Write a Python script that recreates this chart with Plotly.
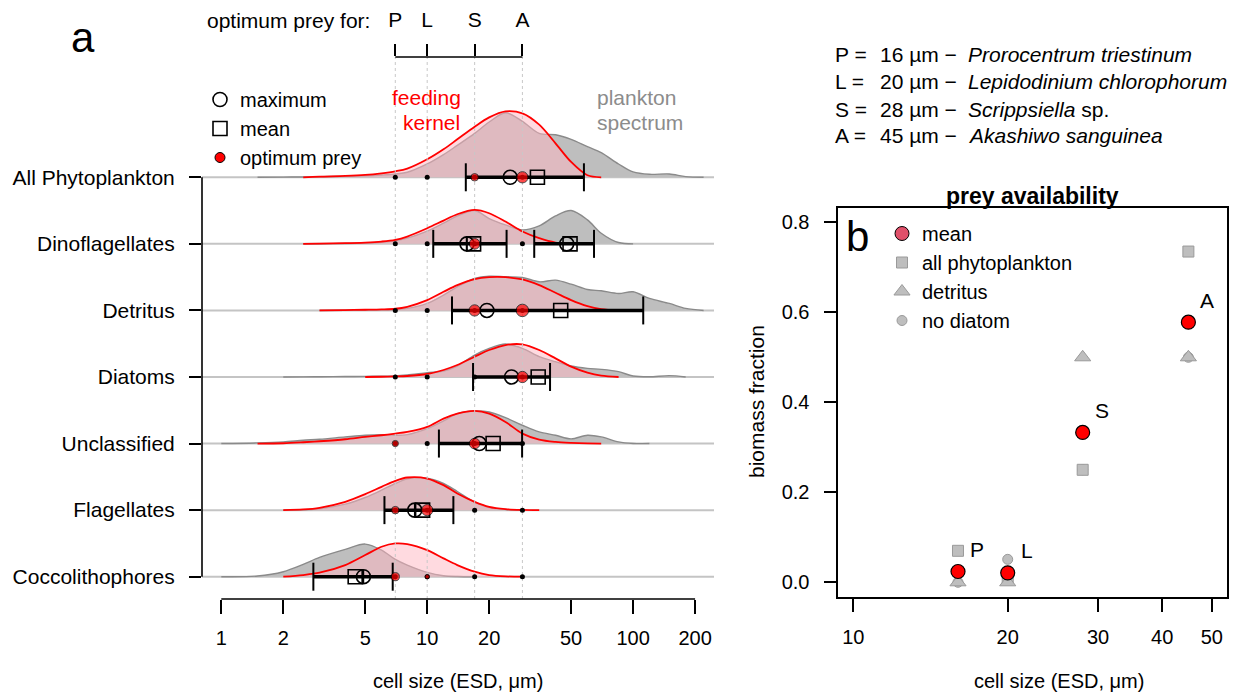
import math
import plotly.graph_objects as go

W, H = 1235, 695
FONT = "Liberation Sans, Arial, Helvetica, sans-serif"

# ---------------------------------------------------------------- data
GROUPS = ["All Phytoplankton", "Dinoflagellates", "Detritus", "Diatoms",
          "Unclassified", "Flagellates", "Coccolithophores"]

# cell-size sample points (ESD, um) at which the curves were read
SIZE_GRID = [1, 1.5, 2, 2.5, 3, 4, 5, 6, 7, 8, 10, 12, 14, 17, 20, 24, 29,
             35, 42, 50, 60, 70, 85, 100, 120, 150, 180, 220]

# plankton size spectra (relative density, in row heights)
SPEC_ALL = [0, 0, 0.003, 0.005, 0.008, 0.014, 0.022, 0.035, 0.05, 0.075, 0.20, 0.34, 0.48, 0.66,
            0.83, 0.97, 0.84, 0.66, 0.64, 0.57, 0.46, 0.37, 0.20, 0.08, 0.045, 0.05, 0.01, 0]
SPEC_DINO = [0, 0, 0, 0, 0.002, 0.005, 0.012, 0.025, 0.045, 0.085, 0.19, 0.31, 0.42, 0.50,
             0.38, 0.285, 0.21, 0.27, 0.42, 0.50, 0.36, 0.16, 0.02, 0, 0, 0, 0, 0]
SPEC_DETR = [0, 0, 0, 0, 0, 0.002, 0.004, 0.008, 0.015, 0.03, 0.105, 0.23, 0.355, 0.48,
             0.515, 0.505, 0.495, 0.43, 0.455, 0.395, 0.315, 0.295, 0.255, 0.28, 0.18, 0.105, 0.03, 0]
SPEC_DIAT = [0, 0, 0, 0.002, 0.004, 0.007, 0.01, 0.013, 0.016, 0.03, 0.065, 0.09, 0.165, 0.33,
             0.43, 0.495, 0.43, 0.305, 0.23, 0.165, 0.13, 0.115, 0.08, 0.015, 0.003, 0.02, 0, 0]
SPEC_UNCL = [0, 0.01, 0.025, 0.05, 0.065, 0.10, 0.125, 0.135, 0.125, 0.135, 0.225, 0.34, 0.45, 0.49,
             0.475, 0.39, 0.275, 0.175, 0.125, 0.07, 0.125, 0.10, 0.025, 0.002, 0, 0, 0, 0]
SPEC_FLAG = [0, 0, 0, 0.005, 0.02, 0.09, 0.19, 0.30, 0.40, 0.47, 0.48, 0.40, 0.28, 0.12,
             0.04, 0.01, 0, 0, 0, 0, 0, 0, 0, 0, 0, 0, 0, 0]
SPEC_COCC = [0, 0.01, 0.075, 0.185, 0.29, 0.41, 0.49, 0.40, 0.26, 0.175, 0.065, 0.015, 0.003, 0,
             0, 0, 0, 0, 0, 0, 0, 0, 0, 0, 0, 0, 0, 0]

# feeding kernels (relative, in row heights)
KERN_ALL = [0, 0, 0, 0, 0.01, 0.02, 0.035, 0.06, 0.09, 0.13, 0.27, 0.42, 0.57, 0.76,
            0.90, 0.99, 0.96, 0.79, 0.51, 0.23, 0.03, 0, 0, 0, 0, 0, 0, 0]
KERN_DINO = [0, 0, 0, 0, 0.004, 0.01, 0.02, 0.035, 0.06, 0.11, 0.235, 0.35, 0.445, 0.51,
             0.46, 0.335, 0.185, 0.085, 0.02, 0, 0, 0, 0, 0, 0, 0, 0, 0]
KERN_DETR = [0, 0, 0, 0, 0, 0.005, 0.01, 0.015, 0.025, 0.055, 0.155, 0.28, 0.38, 0.47,
             0.50, 0.50, 0.465, 0.38, 0.265, 0.155, 0.065, 0.02, 0, 0, 0, 0, 0, 0]
KERN_DIAT = [0, 0, 0, 0, 0, 0, 0, 0.004, 0.008, 0.015, 0.045, 0.105, 0.18, 0.305,
             0.405, 0.48, 0.49, 0.405, 0.28, 0.155, 0.065, 0.02, 0, 0, 0, 0, 0, 0]
KERN_UNCL = [0, 0, 0.005, 0.02, 0.035, 0.065, 0.10, 0.125, 0.15, 0.175, 0.25, 0.375, 0.45, 0.49,
             0.45, 0.325, 0.15, 0.06, 0.025, 0.01, 0.002, 0, 0, 0, 0, 0, 0, 0]
KERN_FLAG = [0, 0, 0, 0.01, 0.035, 0.125, 0.24, 0.35, 0.44, 0.49, 0.475, 0.375, 0.25, 0.125,
             0.05, 0.015, 0.003, 0, 0, 0, 0, 0, 0, 0, 0, 0, 0, 0]
KERN_COCC = [0, 0, 0, 0.025, 0.06, 0.175, 0.325, 0.45, 0.50, 0.49, 0.40, 0.275, 0.175, 0.075,
             0.025, 0.005, 0, 0, 0, 0, 0, 0, 0, 0, 0, 0, 0, 0]

# per-group size statistics (um)
RANGE_LO = [15.4, 10.7, 13.2, 16.7, 11.4, 6.2, 2.8]
RANGE_HI = [57.7, 24.3, 112, 39.5, 28.9, 13.4, 6.8]
SIZE_MAX = [25.3, 15.6, 19.5, 25.7, 17.9, 8.7, 4.9]
SIZE_MEAN = [34.3, 16.8, 44.5, 34.6, 20.9, 9.5, 4.47]
# second (large-cell) mode of the dinoflagellates
DINO2_LO, DINO2_HI, DINO2_MAX, DINO2_MEAN = 33.1, 64.6, 47.6, 49.4

# predators
PREDATORS = ["P", "L", "S", "A"]
PRED_SIZE = [16, 20, 28, 45]
OPT_PREY = [7, 10, 17, 29]
SPECIES = ["Prorocentrum triestinum", "Lepidodinium chlorophorum", "Scrippsiella", "Akashiwo sanguinea"]
SPECIES_SUFFIX = ["", "", " sp.", ""]

# relative prey availability at each optimum prey size, per group (P, L, S, A)
OPT_WEIGHT_ALL = [0, 0, 0.6, 0.9]
OPT_WEIGHT_DINO = [0, 0, 0.85, 0]
OPT_WEIGHT_DETR = [0, 0, 0.9, 1.0]
OPT_WEIGHT_DIAT = [0, 0, 0, 0.9]
OPT_WEIGHT_UNCL = [0.5, 0, 0.85, 0]
OPT_WEIGHT_FLAG = [0.6, 0.9, 0, 0]
OPT_WEIGHT_COCC = [0.65, 0.35, 0, 0]

# panel b: biomass fraction available to each predator
AVAIL_MEAN = [0.024, 0.021, 0.333, 0.578]
AVAIL_ALLPHYTO = [0.07, 0.01, 0.25, 0.735]
AVAIL_DETRITUS = [0.0, 0.0, 0.5, 0.5]
AVAIL_NODIATOM = [0.0, 0.051, 0.25, 0.5]

X_TICKS_A = [1, 2, 5, 10, 20, 50, 100, 200]
X_TICKS_B = [10, 20, 30, 40, 50]
Y_TICKS_B = [0.0, 0.2, 0.4, 0.6, 0.8]

SPECTRA = [SPEC_ALL, SPEC_DINO, SPEC_DETR, SPEC_DIAT, SPEC_UNCL, SPEC_FLAG, SPEC_COCC]
KERNELS = [KERN_ALL, KERN_DINO, KERN_DETR, KERN_DIAT, KERN_UNCL, KERN_FLAG, KERN_COCC]
OPT_WEIGHTS = [OPT_WEIGHT_ALL, OPT_WEIGHT_DINO, OPT_WEIGHT_DETR, OPT_WEIGHT_DIAT,
               OPT_WEIGHT_UNCL, OPT_WEIGHT_FLAG, OPT_WEIGHT_COCC]

# ---------------------------------------------------------------- layout geometry (pixels)
A_LEFT, A_RIGHT, A_TOP, A_BOTTOM = 202, 714, 57, 599
A_XRANGE = [-0.0937, 2.3929]
A_YRANGE = [-0.335, 7.807]
B_LEFT, B_RIGHT, B_TOP, B_BOTTOM = 838.3, 1226.7, 208.3, 596.7
B_XRANGE = [0.9708, 1.7279]
B_YRANGE = [-0.032, 0.8311]

CROSSED_MAX = {"Dinoflagellates", "Flagellates", "Coccolithophores"}

GRAY_FILL = "#BEBEBE"
GRAY_LINE = "#8A8A8A"
PINK_FILL = "rgba(255,182,193,0.5)"
RED = "#FF0000"


def px(x):
    return x / W


def py(y):
    return 1 - y / H


def trim(xs, hs):
    """drop the flat zero tails, keeping one zero at each end"""
    nz = [k for k, h in enumerate(hs) if h > 0]
    a = max(nz[0] - 1, 0)
    b = min(nz[-1] + 1, len(hs) - 1)
    return xs[a:b + 1], hs[a:b + 1]


fig = go.Figure()
nrow = len(GROUPS)
rows = [nrow - 1 - i for i in range(nrow)]

# ---------------------------------------------------------------- densities
for i, g in enumerate(GROUPS):
    r = rows[i]
    for hs, fillc, linec, lw in ((SPECTRA[i], GRAY_FILL, GRAY_LINE, 1.4),
                                 (KERNELS[i], PINK_FILL, RED, 1.8)):
        xs, hh = trim(SIZE_GRID, hs)
        fig.add_trace(go.Scatter(x=xs, y=[r] * len(xs), mode="lines",
                                 line=dict(width=0, color="rgba(0,0,0,0)"),
                                 showlegend=False, hoverinfo="skip"))
        fig.add_trace(go.Scatter(x=xs, y=[r + h for h in hh], mode="lines",
                                 line=dict(width=lw, color=linec, shape="spline", smoothing=0.9),
                                 fill="tonexty", fillcolor=fillc,
                                 showlegend=False, hoverinfo="skip"))

# dotted optimum-prey reference lines
for v in OPT_PREY:
    fig.add_trace(go.Scatter(x=[v, v], y=A_YRANGE, mode="lines",
                             line=dict(color="#C8C8C8", width=1, dash="dot"),
                             showlegend=False, hoverinfo="skip"))

# size ranges
bx, by, cx, cy = [], [], [], []
for i in range(nrow):
    bx += [RANGE_LO[i], RANGE_HI[i], None]
    by += [rows[i], rows[i], None]
    cx += [RANGE_LO[i], RANGE_HI[i]]
    cy += [rows[i], rows[i]]
dino_row = rows[GROUPS.index("Dinoflagellates")]
bx += [DINO2_LO, DINO2_HI]
by += [dino_row, dino_row]
cx += [DINO2_LO, DINO2_HI]
cy += [dino_row, dino_row]
fig.add_trace(go.Scatter(x=bx, y=by, mode="lines", line=dict(color="black", width=3.5),
                         showlegend=False, hoverinfo="skip"))
fig.add_trace(go.Scatter(x=cx, y=cy, mode="markers",
                         marker=dict(symbol="line-ns-open", size=20, color="black",
                                     line=dict(color="black", width=2)),
                         showlegend=False, hoverinfo="skip"))

# maximum (circles) and mean (squares)
max_sym = ["circle-cross-open" if g in CROSSED_MAX else "circle-open" for g in GROUPS]
fig.add_trace(go.Scatter(x=SIZE_MAX + [DINO2_MAX], y=rows + [dino_row], mode="markers",
                         marker=dict(symbol=max_sym + ["circle-open"], size=14, color="black",
                                     line=dict(color="black", width=1.6)),
                         showlegend=False, hoverinfo="skip"))
fig.add_trace(go.Scatter(x=SIZE_MEAN + [DINO2_MEAN], y=rows + [dino_row], mode="markers",
                         marker=dict(symbol="square-open", size=14, color="black",
                                     line=dict(color="black", width=1.6)),
                         showlegend=False, hoverinfo="skip"))

# optimum prey positions: small black dots, red dots sized by availability
dx, dy, rx, ry, rs = [], [], [], [], []
for i in range(nrow):
    for k, v in enumerate(OPT_PREY):
        dx.append(v)
        dy.append(rows[i])
        w = OPT_WEIGHTS[i][k]
        if w > 0:
            rx.append(v)
            ry.append(rows[i])
            rs.append(12.5 * w)
fig.add_trace(go.Scatter(x=dx, y=dy, mode="markers", marker=dict(color="black", size=5),
                         showlegend=False, hoverinfo="skip"))
fig.add_trace(go.Scatter(x=rx, y=ry, mode="markers",
                         marker=dict(color=RED, size=rs, line=dict(color="black", width=1)),
                         showlegend=False, hoverinfo="skip"))

# top axis carrier for the predator letters
fig.add_trace(go.Scatter(x=OPT_PREY, y=[None] * len(OPT_PREY), xaxis="x3", yaxis="y",
                         mode="markers", showlegend=False, hoverinfo="skip"))

# legend a
fig.add_trace(go.Scatter(x=[None], y=[None], mode="markers", name="maximum", legend="legend",
                         marker=dict(symbol="circle-open", size=14, color="black",
                                     line=dict(color="black", width=1.6))))
fig.add_trace(go.Scatter(x=[None], y=[None], mode="markers", name="mean", legend="legend",
                         marker=dict(symbol="square-open", size=14, color="black",
                                     line=dict(color="black", width=1.6))))
fig.add_trace(go.Scatter(x=[None], y=[None], mode="markers", name="optimum prey", legend="legend",
                         marker=dict(symbol="circle", size=10, color=RED,
                                     line=dict(color="black", width=1))))

# ---------------------------------------------------------------- panel b
gray_m = dict(color=GRAY_FILL, line=dict(color="#9A9A9A", width=1))
fig.add_trace(go.Scatter(x=PRED_SIZE, y=AVAIL_NODIATOM, xaxis="x2", yaxis="y2", mode="markers",
                         marker=dict(symbol="circle", size=10, **gray_m),
                         showlegend=False, hoverinfo="skip"))
fig.add_trace(go.Scatter(x=PRED_SIZE, y=AVAIL_ALLPHYTO, xaxis="x2", yaxis="y2", mode="markers",
                         marker=dict(symbol="square", size=11, **gray_m),
                         showlegend=False, hoverinfo="skip"))
fig.add_trace(go.Scatter(x=PRED_SIZE, y=AVAIL_DETRITUS, xaxis="x2", yaxis="y2", mode="markers",
                         marker=dict(symbol="triangle-up", size=14, **gray_m),
                         showlegend=False, hoverinfo="skip"))
fig.add_trace(go.Scatter(x=PRED_SIZE, y=AVAIL_MEAN, xaxis="x2", yaxis="y2", mode="markers",
                         marker=dict(symbol="circle", size=14, color=RED,
                                     line=dict(color="black", width=1.2)),
                         showlegend=False, hoverinfo="skip"))

for name, sym, sz, col in (("mean", "circle", 14, "#E0506A"),
                           ("all phytoplankton", "square", 11, GRAY_FILL),
                           ("detritus", "triangle-up", 14, GRAY_FILL),
                           ("no diatom", "circle", 10, GRAY_FILL)):
    lc = "black" if name == "mean" else "#9A9A9A"
    fig.add_trace(go.Scatter(x=[None], y=[None], xaxis="x2", yaxis="y2", mode="markers",
                             name=name, legend="legend2",
                             marker=dict(symbol=sym, size=sz, color=col, line=dict(color=lc, width=1))))

# ---------------------------------------------------------------- shapes (axis lines, baselines)
shapes = []
for r in rows:
    shapes.append(dict(type="line", xref="x domain", yref="y", x0=0, x1=1, y0=r, y1=r,
                       line=dict(color="#C4C4C4", width=2), layer="below"))
shapes.append(dict(type="line", xref="x domain", yref="y", x0=0, x1=0, y0=min(rows), y1=max(rows),
                   line=dict(color="black", width=1.6)))
shapes.append(dict(type="line", xref="x", yref="y domain", x0=X_TICKS_A[0], x1=X_TICKS_A[-1],
                   y0=0, y1=0, line=dict(color="black", width=1.6)))
shapes.append(dict(type="line", xref="x", yref="y domain", x0=OPT_PREY[0], x1=OPT_PREY[-1],
                   y0=1, y1=1, line=dict(color="black", width=1.6)))

# ---------------------------------------------------------------- annotations
ann = []


def text(x, y, s, size=21, color="black", xanchor="center", **kw):
    ann.append(dict(x=px(x), y=py(y), xref="paper", yref="paper", text=s, showarrow=False,
                    xanchor=xanchor, yanchor="middle", font=dict(family=FONT, size=size, color=color),
                    **kw))


text(82.7, 37, "a", size=42)
text(857.5, 237, "b", size=42)
text(372, 21, "optimum prey for:", xanchor="right")
text(463, 98, "feeding", color=RED, xanchor="right")
text(462, 123, "kernel", color=RED, xanchor="right")
text(595, 98, "plankton", color="#8C8C8C", xanchor="left")
text(595, 123, "spectrum", color="#8C8C8C", xanchor="left")
text(458, 681, "cell size (ESD, μm)", size=20)
text(1059, 681, "cell size (ESD, μm)", size=20)
text(756, 402, "biomass fraction", textangle=-90)
text(1032, 196, "<b>prey availability</b>", size=23)

line_y = [55, 82, 109, 135]
for k in range(len(PREDATORS)):
    text(832.7, line_y[k], f"{PREDATORS[k]} =", xanchor="left")
    text(878.3, line_y[k], f"{PRED_SIZE[k]} µm −", xanchor="left")
    text(966, line_y[k], f"<i>{SPECIES[k]}</i>{SPECIES_SUFFIX[k]}", xanchor="left")

for k in range(len(PREDATORS)):
    ann.append(dict(x=math.log10(PRED_SIZE[k]), y=AVAIL_MEAN[k], xref="x2", yref="y2",
                    text=PREDATORS[k], showarrow=False, xshift=19, yshift=22,
                    font=dict(family=FONT, size=21, color="black")))

# ---------------------------------------------------------------- axes
tick_common = dict(ticks="outside", tickwidth=1.6, tickcolor="black", showgrid=False,
                   zeroline=False, tickfont=dict(family=FONT, size=20, color="black"))
big_tick = {**tick_common, "tickfont": dict(family=FONT, size=21, color="black")}

fig.update_layout(
    width=W, height=H, margin=dict(l=0, r=0, t=0, b=0),
    paper_bgcolor="white", plot_bgcolor="white",
    font=dict(family=FONT, size=20, color="black"),
    xaxis=dict(domain=[px(A_LEFT), px(A_RIGHT)], anchor="y", type="log", range=A_XRANGE,
               tickvals=X_TICKS_A, ticktext=[str(v) for v in X_TICKS_A], ticklen=14,
               showline=False, ticklabelstandoff=7, **tick_common),
    xaxis3=dict(overlaying="x", anchor="y", side="top", type="log", range=A_XRANGE,
                tickvals=OPT_PREY, ticktext=PREDATORS, ticklen=12, showline=False,
                ticklabelstandoff=9, **big_tick),
    yaxis=dict(domain=[py(A_BOTTOM), py(A_TOP)], anchor="x", range=A_YRANGE,
               tickvals=rows, ticktext=GROUPS, ticklen=12, showline=False,
               ticklabelstandoff=10, **big_tick),
    xaxis2=dict(domain=[px(B_LEFT), px(B_RIGHT)], anchor="y2", type="log", range=B_XRANGE,
                tickvals=X_TICKS_B, ticktext=[str(v) for v in X_TICKS_B], ticklen=13,
                showline=True, mirror=True, linecolor="black", linewidth=1.6,
                ticklabelstandoff=8, **tick_common),
    yaxis2=dict(domain=[py(B_BOTTOM), py(B_TOP)], anchor="x2", range=B_YRANGE,
                tickvals=Y_TICKS_B, ticktext=[f"{v:.1f}" for v in Y_TICKS_B], ticklen=13,
                showline=True, mirror=True, linecolor="black", linewidth=1.6,
                ticklabelstandoff=10, **tick_common),
    legend=dict(x=px(200), y=py(80), xanchor="left", yanchor="top", bgcolor="rgba(0,0,0,0)",
                font=dict(family=FONT, size=20), itemsizing="trace", tracegroupgap=0,
                traceorder="normal"),
    legend2=dict(x=px(882), y=py(214), xanchor="left", yanchor="top", bgcolor="rgba(0,0,0,0)",
                 font=dict(family=FONT, size=20), itemsizing="trace", tracegroupgap=0,
                 traceorder="normal"),
    shapes=shapes, annotations=ann, showlegend=True,
)

fig.write_html("out.html")
